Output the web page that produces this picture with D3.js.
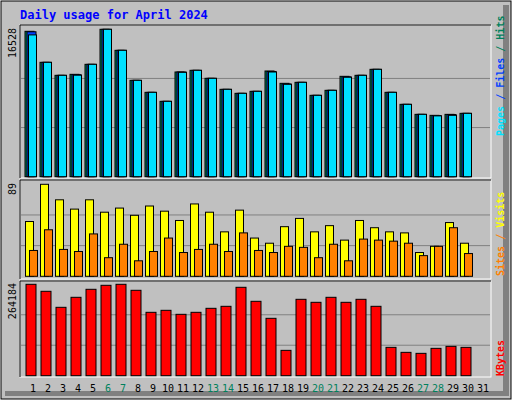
<!DOCTYPE html><html><head><meta charset="utf-8">
<script src="https://cdn.jsdelivr.net/npm/d3@7"></script>
<style>body{margin:0;background:#fff}</style></head><body>
<script>
const days=d3.range(1,32);
const weekend=[6,7,13,14,20,21,27,28];
const hits=[16303,12825,11367,11479,12601,16528,14172,10806,9460,8451,11741,11928,11031,9797,9348,9572,11853,10470,10582,9124,9685,11255,11367,12040,9460,8114,6992,6880,6992,7104];
const files=[16250,12825,11367,11440,12601,16528,14172,10806,9460,8451,11741,11928,11031,9797,9348,9572,11800,10400,10582,9124,9685,11200,11367,12040,9460,8114,6992,6850,6970,7104];
const pages=[15900,12825,11367,11380,12601,16528,14172,10806,9460,8451,11700,11928,11031,9797,9348,9572,11740,10360,10582,9124,9685,11150,11367,12040,9460,8114,6992,6820,6880,7104];
const visits=[53,89,74,65,74,62,66,59,68,63,54,70,62,43,64,37,32,48,56,43,49,35,54,47,43,42,23,29,52,32];
const sites=[25,45,26,24,41,18,31,15,24,37,23,26,31,24,42,25,23,29,28,18,31,15,36,35,34,32,20,29,47,22];
const kbytes=[264184,243943,197661,226587,249728,261298,264184,246835,183198,188983,177413,183198,194768,200554,255513,215017,165842,73279,220802,212124,226587,212124,220802,200554,81957,67494,64601,79064,84850,81957];
const svg=d3.select("body").append("svg").attr("width",512).attr("height",400).style("font-family","'DejaVu Sans Mono',monospace");
svg.append("rect").attr("x",0).attr("y",0).attr("width",512).attr("height",400).attr("fill","#fff");
svg.append("rect").attr("x",1).attr("y",1).attr("width",510).attr("height",398).attr("fill","#c0c0c0").attr("stroke","#000").attr("stroke-width",1);
svg.append("rect").attr("x",503).attr("y",5).attr("width",6).attr("height",391).attr("fill","#808080");
svg.append("rect").attr("x",5).attr("y",391).attr("width",504).attr("height",5).attr("fill","#808080");
svg.append("text").attr("x",20).attr("y",19).text("Daily usage for April 2024").attr("fill","#0000ff").attr("font-size",12).attr("font-weight","bold");
const x=d3.scaleLinear().domain([1,31]).range([25,475]);
function panel(y0,y1){
  svg.append("rect").attr("x",20).attr("y",y0).attr("width",471).attr("height",y1-y0).attr("fill","#c0c0c0").attr("stroke","#fff");
  svg.append("line").attr("x1",20).attr("x2",20).attr("y1",y0).attr("y2",y1).attr("stroke","#000");
  svg.append("line").attr("x1",20).attr("x2",491).attr("y1",y0).attr("y2",y0).attr("stroke","#000");
}
panel(25,178);panel(180,279);panel(281,377);
function grid(y,ys){ys.forEach(v=>svg.append("line").attr("x1",21).attr("x2",490).attr("y1",y(v)).attr("y2",y(v)).attr("stroke","#808080"));}
const yH=d3.scaleLinear().domain([0,16528]).range([176.7,29.3]);
grid(yH,[16528/3,16528*2/3]);
function bars(data,y,dx,w,fill){
  svg.append("g").selectAll("rect").data(data).join("rect").attr("x",(d,i)=>x(i+1)+dx).attr("y",d=>y(d)).attr("width",w).attr("height",d=>y(0)-y(d)).attr("fill",fill).attr("stroke","#000");
}
bars(hits,yH,0,9,"#00805c");bars(files,yH,2,9,"#0040ff");bars(pages,yH,3.5,8,"#00e0ff");
const yV=d3.scaleLinear().domain([0,89]).range([276.3,184.3]);
grid(yV,[89/3,89*2/3]);
bars(visits,yV,0.5,8,"#ffff00");bars(sites,yV,4.5,8,"#ff8000");
const yK=d3.scaleLinear().domain([0,264184]).range([375.7,284.3]);
grid(yK,[264184/3,264184*2/3]);
bars(kbytes,yK,1,10,"#ff0000");
function ylab(t,y){svg.append("text").attr("transform",`translate(16,${y}) rotate(-90)`).attr("text-anchor","end").attr("font-size",10).text(t);}
ylab("16528",28);ylab("89",183);ylab("264184",283);
svg.append("g").selectAll("text").data(days).join("text").attr("x",d=>x(d)+8).attr("y",392).attr("text-anchor","middle").attr("font-size",10)
 .attr("fill",d=>weekend.includes(d)?"#00805c":"#000").text(d=>d);
function rlab(parts,y){const t=svg.append("text").attr("transform",`translate(504,${y}) rotate(-90)`).attr("font-size",10).attr("font-weight","bold");
 parts.forEach(p=>t.append("tspan").attr("fill",p[1]).text(p[0]));}
rlab([["Pages","#00e0ff"],[" / ","#0040ff"],["Files","#0040ff"],[" / ","#00805c"],["Hits","#00805c"]],136);
rlab([["Sites","#ff8000"],[" / ","#ff8000"],["Visits","#ffff00"]],276);
rlab([["KBytes","#ff0000"]],376);
</script></body></html>
